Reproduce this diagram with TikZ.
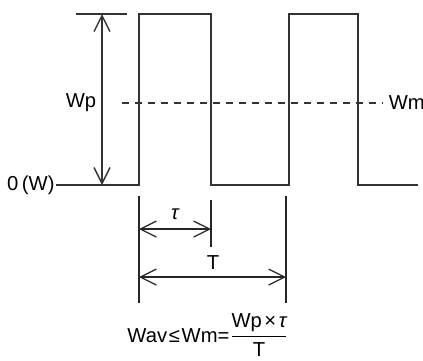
\documentclass[tikz,border=0pt]{standalone}
\usepackage{amsmath}
\usepackage{fontspec}
\setmainfont{Liberation Sans}
\usetikzlibrary{calc, arrows.meta}

\tikzset{
  dimarrow/.style={{Straight Barb[length=3.2mm, width=3.2mm]}-{Straight Barb[length=3.2mm, width=3.2mm]}},
  wave/.style={line width=0.8pt, black!80},
  lbl/.style={inner sep=0.5pt, font=\fontsize{11.5}{13}\selectfont}
}

\begin{document}
\begin{tikzpicture}[x=0.02cm, y=-0.02cm, line width=0.7pt]
  \useasboundingbox (0,0) rectangle (423,360);

  % levels: top = 14, zero = 185, mean = 103
  \coordinate (R1b) at (139,185);
  \coordinate (R1t) at (139,14);
  \coordinate (F1t) at (211,14);
  \coordinate (F1b) at (211,185);
  \coordinate (R2b) at (289,185);
  \coordinate (R2t) at (289,14);
  \coordinate (F2t) at (358,14);
  \coordinate (F2b) at (358,185);
  \coordinate (End) at (418,185);

  \node[lbl, anchor=east] (zero) at (56,185) {0\kern2pt(W)};

  % pulse train
  \draw[wave] (zero.east) -- (R1b) -- (R1t) -- (F1t) -- (F1b)
    -- (R2b) -- (R2t) -- (F2t) -- (F2b) -- (End);

  % peak marker and Wp
  \coordinate (Pk1) at (76,14);
  \coordinate (Pk2) at (127,14);
  \coordinate (WpT) at (102,14);
  \coordinate (WpB) at (102,185);
  \draw[wave] (Pk1) -- (Pk2);
  \draw[wave, dimarrow] (WpT) -- (WpB);
  \node[lbl] (wp) at (81,103) {Wp};

  % mean level Wm
  \coordinate (M1) at (122,103);
  \coordinate (M2) at (382,103);
  \draw[black!80, dash pattern=on 1.4mm off 1.2mm] (M1) -- (M2);
  \node[lbl, anchor=west, xshift=3pt] (wm) at (M2) {Wm};

  % tau and T
  \coordinate (A1) at (139,196);
  \coordinate (A2) at (139,303);
  \coordinate (B1) at (211,200);
  \coordinate (B2) at (211,247);
  \coordinate (C1) at (286,196);
  \coordinate (C2) at (286,303);
  \draw[black!85] (A1) -- (A2);
  \draw[black!85] (B1) -- (B2);
  \draw[black!85] (C1) -- (C2);

  \coordinate (tauL) at (139,229);
  \coordinate (tauR) at (211,229);
  \coordinate (TL) at (139,277);
  \coordinate (TR) at (286,277);
  \draw[black!85, dimarrow] (tauL) -- (tauR);
  \draw[black!85, dimarrow] (TL) -- (TR);
  \node[lbl] (tau) at (175,214) {\itshape τ};
  \node[lbl] (per) at (213,263) {T};

  % average power
  \node[lbl, anchor=south] (formula) at (208,358) {Wav\kern1pt≤\kern1ptWm=$\dfrac{\text{Wp\kern1.5pt×\kern1.5pt\itshape τ}}{\text{T}}$};
\end{tikzpicture}
\end{document}
